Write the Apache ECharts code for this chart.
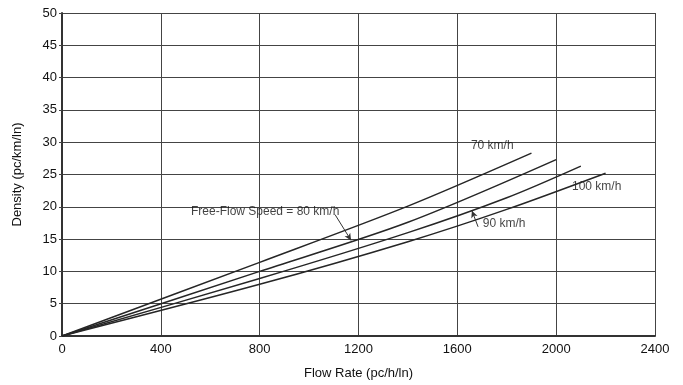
<!DOCTYPE html>
<html>
<head>
<meta charset="utf-8">
<script src="https://cdn.jsdelivr.net/npm/echarts@6/dist/echarts.min.js"></script>
<style>html,body{margin:0;padding:0;background:#fff}#c{width:683px;height:385px}</style>
</head>
<body>
<div id="c"></div>
<script>
var FONT = '"Liberation Sans","Arial",sans-serif';
var xTicks = [0, 400, 800, 1200, 1600, 2000, 2400];
var yTicks = [0, 5, 10, 15, 20, 25, 30, 35, 40, 45, 50];
var speeds = ['70 km/h', '80 km/h', '90 km/h', '100 km/h'];
var flow70 = [0, 800, 1400, 1900];
var dens70 = [0, 11.4, 20.1, 28.3];
var flow80 = [0, 800, 1400, 2000];
var dens80 = [0, 10.0, 17.6, 27.3];
var flow90 = [0, 800, 1400, 1800, 2100];
var dens90 = [0, 8.9, 16.0, 21.4, 26.3];
var flow100 = [0, 800, 1400, 1800, 2200];
var dens100 = [0, 8.0, 14.6, 19.6, 25.2];
var labelText = ['70 km/h', '100 km/h', '90 km/h', 'Free-Flow Speed = 80 km/h'];
var labelX = [1655, 2064, 1703, 522];
var labelY = [29.4, 23.1, 17.4, 19.3];
var arrow80 = [[1105, 18.8], [1170, 14.8]];
var arrow90 = [[1684, 16.9], [1659, 19.4]];

function pairs(xs, ys) { return xs.map(function (x, i) { return [x, ys[i]]; }); }

var chart = echarts.init(document.getElementById('c'));
var lineStyle = { color: '#262626', width: 1.5 };
function mkSeries(name, xs, ys) {
  return { name: name, type: 'line', data: pairs(xs, ys), showSymbol: false, smooth: 0.3,
    lineStyle: lineStyle, silent: true, animation: false };
}
var series = [
  mkSeries(speeds[0], flow70, dens70),
  mkSeries(speeds[1], flow80, dens80),
  mkSeries(speeds[2], flow90, dens90),
  mkSeries(speeds[3], flow100, dens100)
];
series[1].markLine = {
  silent: true, animation: false, symbol: ['none', 'arrow'], symbolSize: [5, 7],
  lineStyle: { color: '#333', width: 1, type: 'solid' }, label: { show: false },
  data: [[{ coord: arrow80[0] }, { coord: arrow80[1] }], [{ coord: arrow90[0] }, { coord: arrow90[1] }]]
};
series.push({
  type: 'scatter', symbolSize: 0, silent: true, animation: false,
  data: labelText.map(function (t, i) { return { value: [labelX[i], labelY[i]], name: t }; }),
  label: { show: true, position: 'right', distance: 0, formatter: function (p) { return p.name; },
    color: '#111', fontFamily: FONT, fontSize: 12 }
});

chart.setOption({
  animation: false,
  grid: { left: 62, right: 28, top: 13, bottom: 48 },
  xAxis: {
    type: 'value', min: 0, max: 2400, interval: 400,
    name: 'Flow Rate (pc/h/ln)', nameLocation: 'middle', nameGap: 31,
    nameTextStyle: { fontFamily: FONT, fontSize: 13, color: '#111' },
    axisLine: { show: true, lineStyle: { color: '#333', width: 2 } },
    axisTick: { show: false },
    axisLabel: { fontFamily: FONT, fontSize: 13, color: '#111', margin: 7,
      formatter: function (v) { return xTicks.indexOf(v) >= 0 ? String(v) : ''; } },
    splitLine: { show: true, lineStyle: { color: '#444', width: 1 } }
  },
  yAxis: {
    type: 'value', min: 0, max: 50, interval: 5,
    name: 'Density (pc/km/ln)', nameLocation: 'middle', nameGap: 38,
    nameTextStyle: { fontFamily: FONT, fontSize: 13, color: '#111' },
    axisLine: { show: true, lineStyle: { color: '#333', width: 2 } },
    axisTick: { show: true, length: 3, lineStyle: { color: '#444' } },
    axisLabel: { fontFamily: FONT, fontSize: 13, color: '#111', margin: 5,
      formatter: function (v) { return yTicks.indexOf(v) >= 0 ? String(v) : ''; } },
    splitLine: { show: true, lineStyle: { color: '#444', width: 1 } }
  },
  series: series
});
</script>
</body>
</html>
